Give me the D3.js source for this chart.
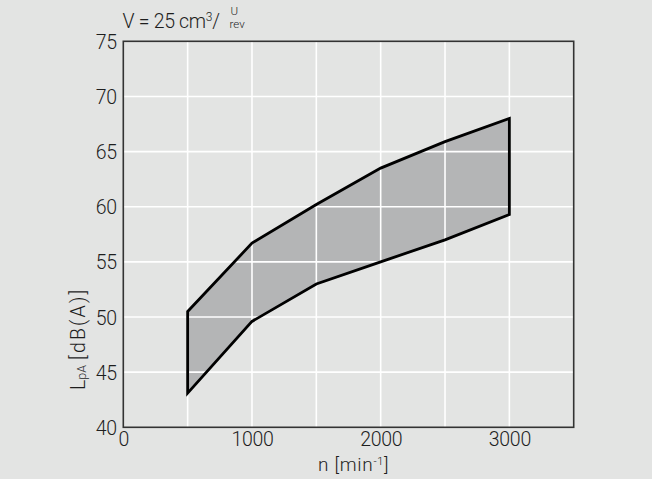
<!DOCTYPE html>
<html>
<head>
<meta charset="utf-8">
<script src="https://cdn.jsdelivr.net/npm/d3@7"></script>
<style>
  html, body { margin: 0; padding: 0; background: #e3e4e3; }
  svg { display: block; }
  text { font-family: Roboto, "Liberation Sans", sans-serif; font-weight: 300; fill: #1e1e1e; }
</style>
</head>
<body>
<svg id="chart" width="652" height="479"></svg>
<script>
// ---- data ----
const speeds = [500, 1000, 1500, 2000, 2500, 3000];           // n [min^-1]
const upperLevel = [50.5, 56.7, 60.2, 63.5, 65.9, 68.0];       // LpA upper bound
const lowerLevel = [43.1, 49.6, 53.0, 55.0, 57.0, 59.3];       // LpA lower bound
const xTickValues = [0, 1000, 2000, 3000];
const yTickValues = [40, 45, 50, 55, 60, 65, 70, 75];
const xGridValues = [500, 1000, 1500, 2000, 2500, 3000];
const yGridValues = [45, 50, 55, 60, 65, 70];

// ---- layout ----
const W = 652, H = 479;
const mLeft = 123.3, mRight = 573.7, mTop = 41.3, mBottom = 427.3;

const svg = d3.select("#chart");
svg.append("rect").attr("width", W).attr("height", H).attr("fill", "#e3e4e3");

const x = d3.scaleLinear().domain([0, 3500]).range([mLeft, mRight]);
const y = d3.scaleLinear().domain([40, 75]).range([mBottom, mTop]);

// band polygon (upper forward, lower backward)
const upperPts = speeds.map((s, i) => [s, upperLevel[i]]);
const lowerPts = speeds.map((s, i) => [s, lowerLevel[i]]).reverse();
const polyPts = upperPts.concat(lowerPts);
const line = d3.line().x(d => x(d[0])).y(d => y(d[1]));

svg.append("path")
  .attr("d", line(polyPts) + "Z")
  .attr("fill", "#b4b5b6")
  .attr("stroke", "none");

// grid
const grid = svg.append("g");
grid.selectAll("line.v").data(xGridValues).join("line")
  .attr("x1", d => x(d)).attr("x2", d => x(d))
  .attr("y1", mTop).attr("y2", mBottom)
  .attr("stroke", "#ffffff").attr("stroke-width", 1.6);
grid.selectAll("line.h").data(yGridValues).join("line")
  .attr("x1", mLeft).attr("x2", mRight)
  .attr("y1", d => y(d)).attr("y2", d => y(d))
  .attr("stroke", "#ffffff").attr("stroke-width", 1.6);

// outline
svg.append("path")
  .attr("d", line(polyPts) + "Z")
  .attr("fill", "none")
  .attr("stroke", "#000")
  .attr("stroke-width", 2.8)
  .attr("stroke-linejoin", "miter");

// frame
svg.append("rect")
  .attr("x", mLeft).attr("y", mTop)
  .attr("width", mRight - mLeft).attr("height", mBottom - mTop)
  .attr("fill", "none").attr("stroke", "#333").attr("stroke-width", 1.6);

// axes (labels only, via d3 axes)
const xAxis = d3.axisBottom(x).tickValues(xTickValues).tickSize(0).tickPadding(0).tickFormat(d3.format("d"));
const gx = svg.append("g").attr("transform", `translate(0,${mBottom})`).call(xAxis);
gx.select(".domain").remove();
gx.selectAll("text")
  .attr("y", 19).attr("dy", null)
  .style("font-family", "Roboto, 'Liberation Sans', sans-serif")
  .style("font-weight", 300)
  .style("font-size", "19.5px").style("letter-spacing", "-0.3px")
  .attr("fill", "#1e1e1e");

const yAxis = d3.axisLeft(y).tickValues(yTickValues).tickSize(0).tickPadding(6.5).tickFormat(d3.format("d"));
const gy = svg.append("g").attr("transform", `translate(${mLeft},0)`).call(yAxis);
gy.select(".domain").remove();
gy.selectAll("text")
  .attr("dy", "0.36em")
  .style("font-family", "Roboto, 'Liberation Sans', sans-serif")
  .style("font-weight", 300)
  .style("font-size", "19.5px").style("letter-spacing", "-0.3px")
  .attr("fill", "#1e1e1e");

// x-axis title
const xt = svg.append("text").attr("x", 318).attr("y", 471)
  .attr("font-size", 19).style("letter-spacing", "0.7px");
xt.append("tspan").text("n [min");
xt.append("tspan").attr("font-size", 11).attr("dy", -6).text("-1");
xt.append("tspan").attr("dy", 6).text("]");

// y-axis title
const yt = svg.append("text")
  .attr("transform", "translate(85,390) rotate(-90)")
  .attr("font-size", 19.5);
yt.append("tspan").text("L");
yt.append("tspan").attr("font-size", 12.5).attr("dy", 1).text("pA");
yt.append("tspan").attr("dy", -1).attr("dx", 5).style("letter-spacing", "2.2px").text("[dB(A)]");

// title
const tt = svg.append("text").attr("x", 122.5).attr("y", 28.3).attr("font-size", 19.5).style("letter-spacing", "-0.3px");
tt.append("tspan").text("V = 25 cm");
tt.append("tspan").attr("font-size", 12).attr("dy", -7).text("3");
tt.append("tspan").attr("dy", 7).text("/");
svg.append("text").attr("x", 230.5).attr("y", 15).attr("font-size", 11.5).text("U");
svg.append("text").attr("x", 229.5).attr("y", 28.3).attr("font-size", 11.5).text("rev");
</script>
</body>
</html>
